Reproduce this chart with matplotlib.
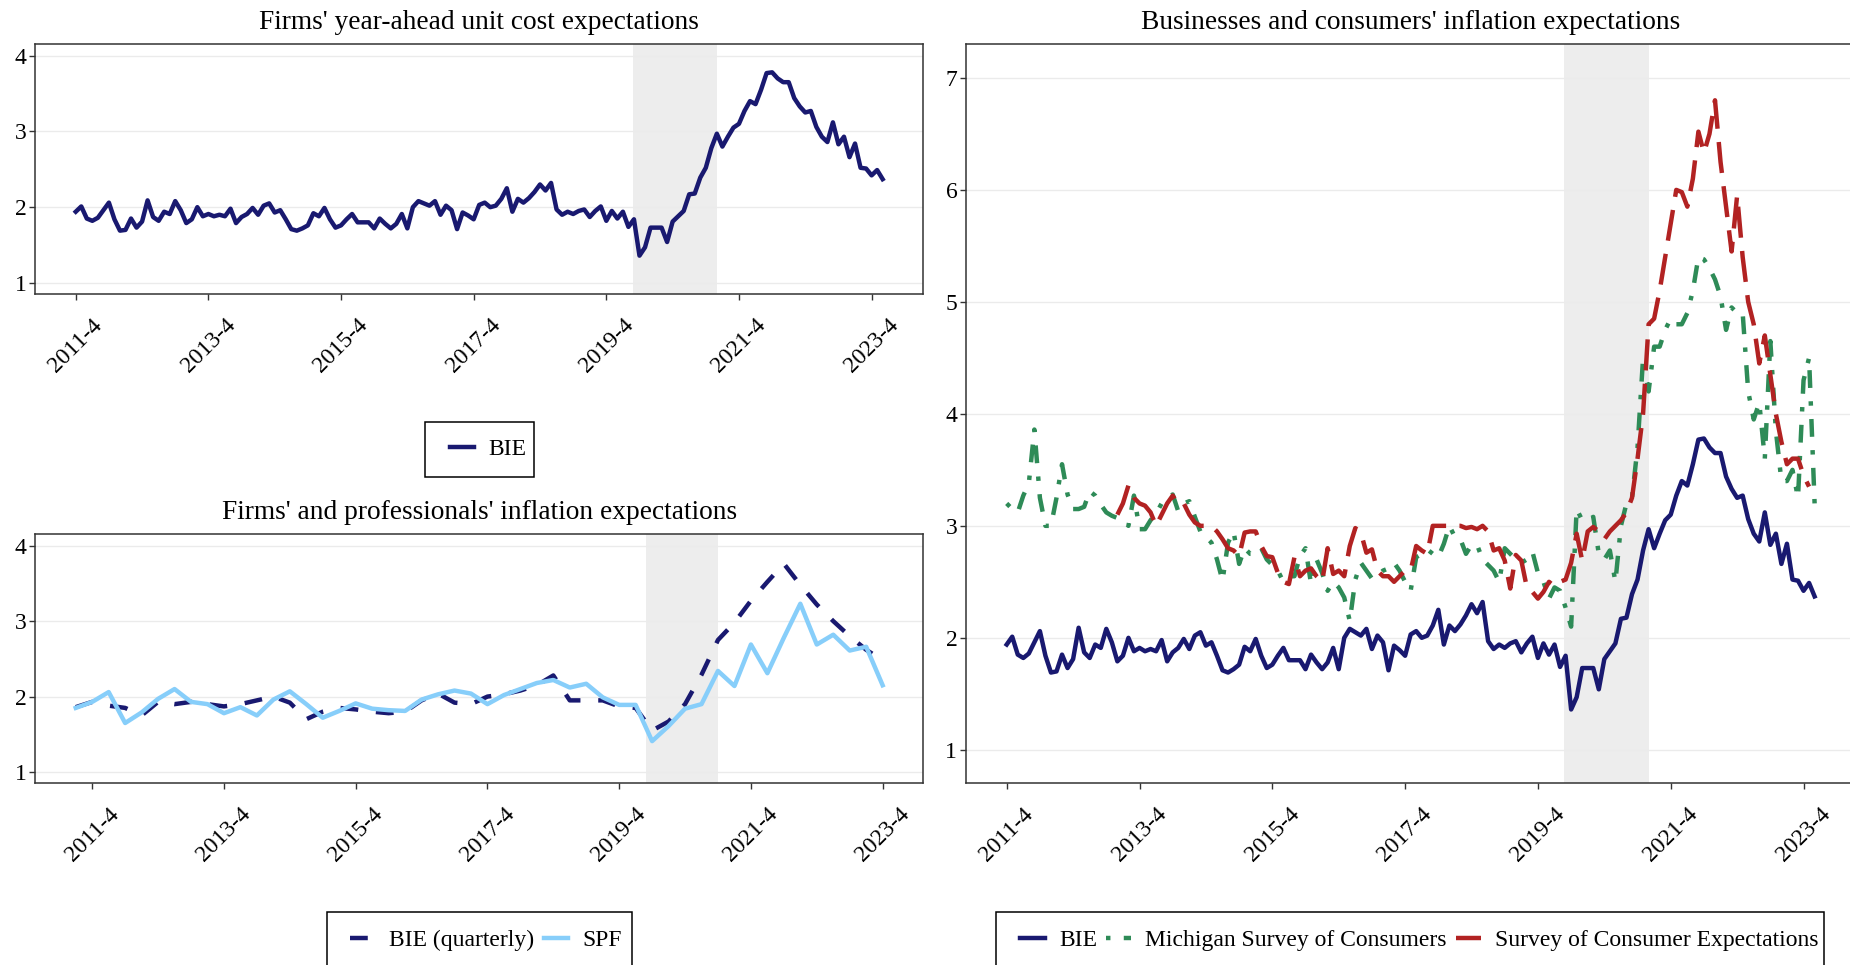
import numpy as np
import matplotlib
matplotlib.use("Agg")
import matplotlib.pyplot as plt
from matplotlib.lines import Line2D
from matplotlib.patches import Rectangle

plt.rcParams['font.family'] = ['Liberation Serif', 'DejaVu Serif']

# ---------------------------- data ----------------------------#
tick_labels = ["2011-4", "2013-4", "2015-4", "2017-4", "2019-4", "2021-4", "2023-4"]

# monthly series, index 0 = 2011-4
bie = [1.94, 2.01, 1.85, 1.82, 1.86, 1.96, 2.06, 1.84, 1.69, 1.70,
       1.85, 1.73, 1.81, 2.09, 1.87, 1.82, 1.94, 1.91, 2.08, 1.96,
       1.79, 1.84, 2.00, 1.88, 1.91, 1.88, 1.90, 1.88, 1.98, 1.79,
       1.87, 1.91, 1.99, 1.90, 2.02, 2.05, 1.93, 1.96, 1.84, 1.71,
       1.69, 1.72, 1.76, 1.92, 1.88, 1.99, 1.84, 1.73, 1.76, 1.84,
       1.91, 1.80, 1.80, 1.80, 1.72, 1.85, 1.78, 1.72, 1.78, 1.91,
       1.72, 2.00, 2.08, 2.05, 2.02, 2.08, 1.90, 2.02, 1.96, 1.71,
       1.93, 1.89, 1.84, 2.03, 2.06, 2.00, 2.02, 2.11, 2.25, 1.94,
       2.11, 2.06, 2.12, 2.20, 2.30, 2.22, 2.32, 1.97, 1.90, 1.94,
       1.91, 1.95, 1.97, 1.87, 1.95, 2.01, 1.82, 1.95, 1.85, 1.94,
       1.74, 1.84, 1.36, 1.47, 1.73, 1.73, 1.73, 1.54, 1.81, 1.88,
       1.95, 2.17, 2.18, 2.39, 2.52, 2.78, 2.97, 2.80, 2.93, 3.05,
       3.10, 3.27, 3.40, 3.36, 3.55, 3.77, 3.78, 3.70, 3.65, 3.65,
       3.44, 3.33, 3.25, 3.27, 3.06, 2.93, 2.86, 3.12, 2.83, 2.93,
       2.66, 2.84, 2.52, 2.51, 2.42, 2.49, 2.37]

michigan = [3.20, 3.15, 3.12, 3.27, 3.38, 3.86, 3.25, 3.00, 3.00, 3.25,
            3.55, 3.28, 3.15, 3.15, 3.17, 3.31, 3.27, 3.19, 3.12, 3.09,
            3.07, 3.05, 3.00, 3.27, 2.97, 2.97, 3.05, 3.11, 3.20, 3.25,
            3.28, 3.13, 3.20, 3.22, 3.08, 2.95, 2.90, 2.85, 2.70, 2.51,
            2.85, 2.95, 2.66, 2.80, 2.75, 2.75, 2.80, 2.70, 2.65, 2.60,
            2.50, 2.55, 2.55, 2.73, 2.80, 2.48, 2.70, 2.58, 2.42, 2.50,
            2.45, 2.36, 2.15, 2.52, 2.67, 2.60, 2.53, 2.55, 2.60, 2.62,
            2.67, 2.60, 2.50, 2.42, 2.72, 2.75, 2.79, 2.75, 2.72, 2.84,
            3.00, 2.90, 2.88, 2.75, 2.83, 2.83, 2.70, 2.65, 2.60, 2.50,
            2.80, 2.75, 2.70, 2.67, 2.70, 2.77, 2.58, 2.50, 2.35, 2.45,
            2.42, 2.27, 2.10, 3.15, 3.05, 3.05, 3.08, 2.75, 2.70, 2.78,
            2.50, 3.00, 3.20, 3.25, 3.70, 4.50, 4.20, 4.60, 4.60, 4.75,
            4.85, 4.80, 4.80, 4.90, 5.10, 5.40, 5.38, 5.30, 5.20, 5.05,
            4.75, 4.95, 4.90, 4.90, 4.20, 3.95, 4.10, 3.60, 4.65, 3.85,
            3.40, 3.40, 3.50, 3.25, 4.30, 4.50, 3.20]

# Survey of Consumer Expectations starts at month index 20
sce_start = 20
sce = [3.10, 3.20, 3.36, 3.25, 3.20, 3.18, 3.12, 3.00, 3.10, 3.20,
       3.27, 3.19, 3.20, 3.10, 3.03, 3.00, 3.00, 3.00, 2.95, 2.88,
       2.80, 2.78, 2.73, 2.94, 2.95, 2.95, 2.82, 2.73, 2.72, 2.58,
       2.50, 2.48, 2.72, 2.55, 2.60, 2.62, 2.55, 2.50, 2.80, 2.57,
       2.60, 2.55, 2.82, 2.98, 2.94, 2.76, 2.79, 2.60, 2.55, 2.55,
       2.50, 2.55, 2.60, 2.60, 2.82, 2.78, 2.75, 3.00, 3.00, 3.00,
       3.00, 3.00, 3.00, 2.98, 2.99, 2.97, 3.00, 2.95, 2.78, 2.80,
       2.69, 2.44, 2.74, 2.69, 2.45, 2.41, 2.35, 2.41, 2.50, 2.46,
       2.50, 2.52, 2.67, 2.93, 2.69, 2.95, 2.99, 2.95, 2.88, 2.95,
       3.00, 3.05, 3.12, 3.25, 3.60, 4.00, 4.80, 4.85, 5.10, 5.40,
       5.70, 6.00, 5.98, 5.85, 6.10, 6.52, 6.33, 6.50, 6.80, 6.25,
       5.85, 5.45, 5.95, 5.40, 5.00, 4.80, 4.45, 4.70, 4.35, 4.00,
       3.75, 3.55, 3.60, 3.60, 3.45, 3.35]

# quarterly series, index 0 = 2011-4, first point one quarter earlier
bie_q = [1.86, 1.93, 1.88, 1.85, 1.75, 1.93, 1.90, 1.93, 1.90, 1.87,
         1.90, 1.95, 2.00, 1.92, 1.70, 1.80, 1.85, 1.83, 1.80, 1.78,
         1.80, 1.95, 2.04, 1.92, 1.90, 2.00, 2.03, 2.08, 2.15, 2.28,
         1.95, 1.95, 1.95, 1.87, 1.85, 1.55, 1.67, 1.90, 2.29, 2.75,
         2.98, 3.27, 3.52, 3.76, 3.48, 3.22, 3.00, 2.80, 2.62, 2.48]
spf = [1.85, 1.93, 2.06, 1.65, 1.79, 1.97, 2.10, 1.93, 1.90, 1.78,
       1.86, 1.75, 1.96, 2.07, 1.90, 1.72, 1.81, 1.91, 1.84, 1.82,
       1.81, 1.96, 2.03, 2.08, 2.04, 1.90, 2.02, 2.10, 2.18, 2.22,
       2.12, 2.17, 1.99, 1.89, 1.89, 1.41, 1.61, 1.84, 1.90, 2.34,
       2.14, 2.69, 2.31, 2.78, 3.23, 2.69, 2.82, 2.61, 2.66, 2.15]

months = np.arange(len(bie))
months_sce = np.arange(sce_start, sce_start + len(sce))
quarters = np.arange(-1, len(spf) - 1)

shade_m = (100.8, 116.1)
shade_q = (33.65, 38.0)

# ---------------------------- style ----------------------------#
NAVY = '#191970'
SKY = '#87CEFA'
GREEN = '#2E8B57'
RED = '#B22222'
LW = 3.2
W, H = 1850, 965


def px_axes(fig, x0, y0, x1, y1):
    return fig.add_axes([x0 / W, 1 - y1 / H, (x1 - x0) / W, (y1 - y0) / H])


def style(ax, title, xticks, xlim, ylim, yticks):
    ax.set_xlim(*xlim)
    ax.set_ylim(*ylim)
    ax.set_yticks(yticks)
    ax.set_xticks(xticks)
    ax.set_xticklabels(tick_labels, rotation=45, ha='center')
    ax.yaxis.grid(True, color='#EBEBEB', lw=1.0)
    ax.set_axisbelow(True)
    for s in ax.spines.values():
        s.set_color('#333333')
        s.set_linewidth(1.1)
    ax.tick_params(axis='both', length=4.5, width=1, color='#333333',
                   labelsize=17, labelcolor='black')
    ax.tick_params(axis='x', pad=10)
    ax.tick_params(axis='y', pad=2)
    ax.set_title(title, fontsize=19.7, pad=11)


def legend_box(fig, handles, labels, hx, cy, box):
    fig.legend(handles, labels, loc='center left',
               bbox_to_anchor=(hx / W, 1 - cy / H), bbox_transform=fig.transFigure,
               frameon=False, borderpad=0, borderaxespad=0, ncol=len(handles),
               handlelength=1.05, handletextpad=0.6, columnspacing=0.4,
               fontsize=17)
    x0, y0, x1, y1 = box
    fig.add_artist(Rectangle((x0 / W, 1 - y1 / H), (x1 - x0) / W, (y1 - y0) / H,
                             transform=fig.transFigure, fill=False,
                             edgecolor='black', lw=1.1))


fig = plt.figure(figsize=(W / 100, H / 100), dpi=100)

m_ticks = np.arange(0, 145, 24)
m_lim = (-7.3, 153.3)
q_ticks = np.arange(0, 49, 8)
q_lim = (-3.45, 50.45)

# top left
ax1 = px_axes(fig, 35.4, 44.3, 923, 294.3)
ax1.axvspan(*shade_m, color='#EDEDED', lw=0, zorder=0.5)
ax1.plot(months, bie, color=NAVY, lw=LW)
style(ax1, "Firms' year-ahead unit cost expectations", m_ticks, m_lim, (0.85, 4.15), [1, 2, 3, 4])
legend_box(fig, [Line2D([], [], color=NAVY, lw=LW)], ["BIE"],
           449.6, 449.2, (424.8, 421.7, 534, 476.7))

# bottom left
ax2 = px_axes(fig, 35.4, 534.3, 923, 783.4)
ax2.axvspan(*shade_q, color='#EDEDED', lw=0, zorder=0.5)
ax2.plot(quarters, bie_q, color=NAVY, lw=LW, dashes=(4, 4))
ax2.plot(quarters, spf, color=SKY, lw=LW)
style(ax2, "Firms' and professionals' inflation expectations", q_ticks, q_lim, (0.85, 4.15), [1, 2, 3, 4])
legend_box(fig, [Line2D([], [], color=NAVY, lw=LW, dashes=(4, 4)),
                 Line2D([], [], color=SKY, lw=LW)],
           ["BIE (quarterly)", "SPF"], 350, 940, (327.4, 911.7, 632.4, 968))

# right
ax3 = px_axes(fig, 966.3, 44.3, 1855, 783.4)
ax3.axvspan(*shade_m, color='#EDEDED', lw=0, zorder=0.5)
ax3.plot(months, bie, color=NAVY, lw=LW)
ax3.plot(months, michigan, color=GREEN, lw=LW, dashes=(1, 3, 4, 3))
ax3.plot(months_sce, sce, color=RED, lw=LW, dashes=(7, 3))
style(ax3, "Businesses and consumers' inflation expectations", m_ticks, m_lim, (0.7, 7.3), [1, 2, 3, 4, 5, 6, 7])
legend_box(fig, [Line2D([], [], color=NAVY, lw=LW),
                 Line2D([], [], color=GREEN, lw=LW, dashes=(1, 3, 4, 3)),
                 Line2D([], [], color=RED, lw=LW, dashes=(7, 3))],
           ["BIE", "Michigan Survey of Consumers", "Survey of Consumer Expectations"],
           1020, 940, (995.7, 911.7, 1824.3, 968))

fig.savefig("out.png", dpi=100)
